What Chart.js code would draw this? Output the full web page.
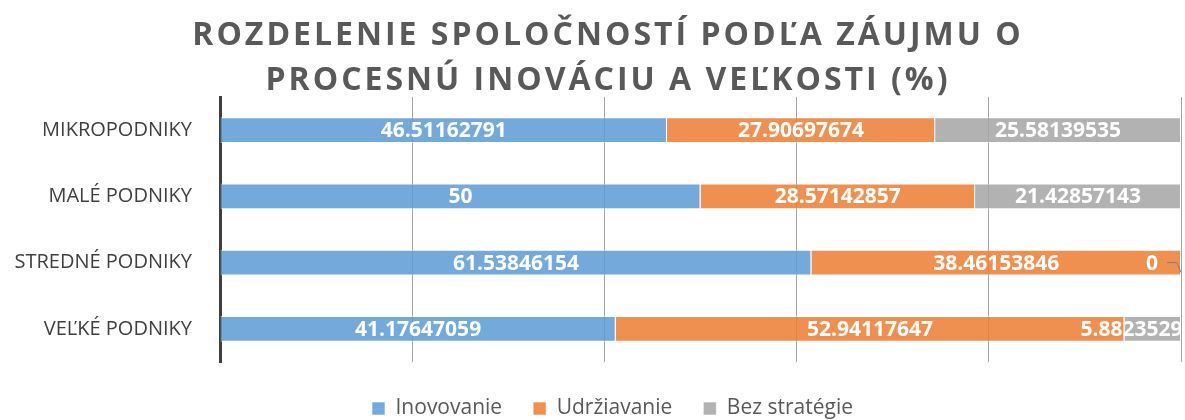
<!DOCTYPE html>
<html>
<head>
<meta charset="utf-8">
<script src="https://cdn.jsdelivr.net/npm/chart.js@4"></script>
<style>
    html, body { margin: 0; padding: 0; background: #fff; }
    #wrap { position: relative; width: 1185px; height: 420px; overflow: hidden; }
    #title {
        position: absolute; left: 0; top: 10px; width: 1216px;
        text-align: center; font-family: "Open Sans", sans-serif; font-weight: 700;
        font-size: 32px; line-height: 45px; letter-spacing: 3px; color: #595959;
    }
</style>
</head>
<body>
<div id="wrap">
    <div id="title">ROZDELENIE SPOLOČNOSTÍ PODĽA ZÁUJMU O<br>PROCESNÚ INOVÁCIU A VEĽKOSTI (%)</div>
    <canvas id="chart" width="1185" height="420"></canvas>
</div>
<script>
// Company size categories
const categories = ['MIKROPODNIKY', 'MALÉ PODNIKY', 'STREDNÉ PODNIKY', 'VEĽKÉ PODNIKY'];

// Shares in percent
const inovovanie = [46.51162791, 50, 61.53846154, 41.17647059];
const udrziavanie = [27.90697674, 28.57142857, 38.46153846, 52.94117647];
const bezStrategie = [25.58139535, 21.42857143, 0, 5.882352941];

const xTicks = [0, 20, 40, 60, 80, 100];

// Draws white value labels in the middle of each segment
const segmentLabels = {
    id: 'segmentLabels',
    afterLayout(chart) {
        // legend sits a bit right of centre in the original
        chart.legend.left += 20;
        chart.legend.right += 20;
    },
    afterDatasetsDraw(chart) {
        const ctx = chart.ctx;
        const area = chart.chartArea;
        ctx.save();
        ctx.beginPath();
        ctx.rect(area.left, area.top - 20, area.right - area.left, area.bottom - area.top + 40);
        ctx.clip();
        ctx.font = 'bold 21px "Open Sans"';
        ctx.fillStyle = '#ffffff';
        ctx.textAlign = 'center';
        ctx.textBaseline = 'middle';
        chart.data.datasets.forEach((ds, i) => {
            const meta = chart.getDatasetMeta(i);
            meta.data.forEach((bar, j) => {
                const v = ds.data[j];
                let x = (bar.x + bar.base) / 2;
                if (v === 0) {
                    x = bar.x - 29;
                    ctx.strokeStyle = '#7f7f7f';
                    ctx.lineWidth = 1;
                    ctx.beginPath();
                    ctx.moveTo(bar.x - 14, bar.y);
                    ctx.lineTo(bar.x - 4, bar.y);
                    ctx.lineTo(bar.x, bar.y + 10);
                    ctx.stroke();
                } else if (x + 60 > area.right) {
                    // label wider than the thin end segment
                    x = bar.base + 19;
                }
                ctx.fillText(String(v), x, bar.y + 1);
            });
        });
        ctx.restore();
    }
};

new Chart(document.getElementById('chart'), {
    type: 'bar',
    data: {
        labels: categories,
        datasets: [
            {
                label: 'Inovovanie',
                data: inovovanie,
                backgroundColor: 'rgba(91, 155, 213, 0.85)',
                borderColor: 'rgba(255, 255, 255, 0.6)',
                borderWidth: 1
            },
            {
                label: 'Udržiavanie',
                data: udrziavanie,
                backgroundColor: 'rgba(237, 125, 49, 0.85)',
                borderColor: 'rgba(255, 255, 255, 0.6)',
                borderWidth: 1
            },
            {
                label: 'Bez stratégie',
                data: bezStrategie,
                backgroundColor: 'rgba(165, 165, 165, 0.85)',
                borderColor: 'rgba(255, 255, 255, 0.6)',
                borderWidth: 1
            }
        ]
    },
    options: {
        indexAxis: 'y',
        responsive: false,
        animation: false,
        categoryPercentage: 1,
        barPercentage: 0.39,
        layout: {
            padding: { top: 97, left: 4, right: 4, bottom: -9 }
        },
        scales: {
            x: {
                stacked: true,
                min: 0,
                max: 100,
                afterBuildTicks(scale) {
                    scale.ticks = xTicks.map(v => ({ value: v }));
                },
                afterFit(scale) { scale.height = 5; },
                ticks: { display: false },
                grid: { color: '#a6a6a6', lineWidth: 1, drawTicks: false },
                border: { display: false }
            },
            y: {
                stacked: true,
                afterFit(scale) { scale.width = 216; },
                ticks: {
                    color: '#404040',
                    padding: 28,
                    font: { family: 'Open Sans', size: 20 }
                },
                grid: { display: false, drawTicks: false },
                border: { display: true, color: '#404040', width: 3 }
            }
        },
        plugins: {
            legend: {
                position: 'bottom',
                labels: {
                    color: '#595959',
                    boxWidth: 13,
                    boxHeight: 13,
                    padding: 31,
                    font: { family: 'Open Sans', size: 21 }
                }
            },
            tooltip: { enabled: false }
        }
    },
    plugins: [segmentLabels]
});
</script>
</body>
</html>
